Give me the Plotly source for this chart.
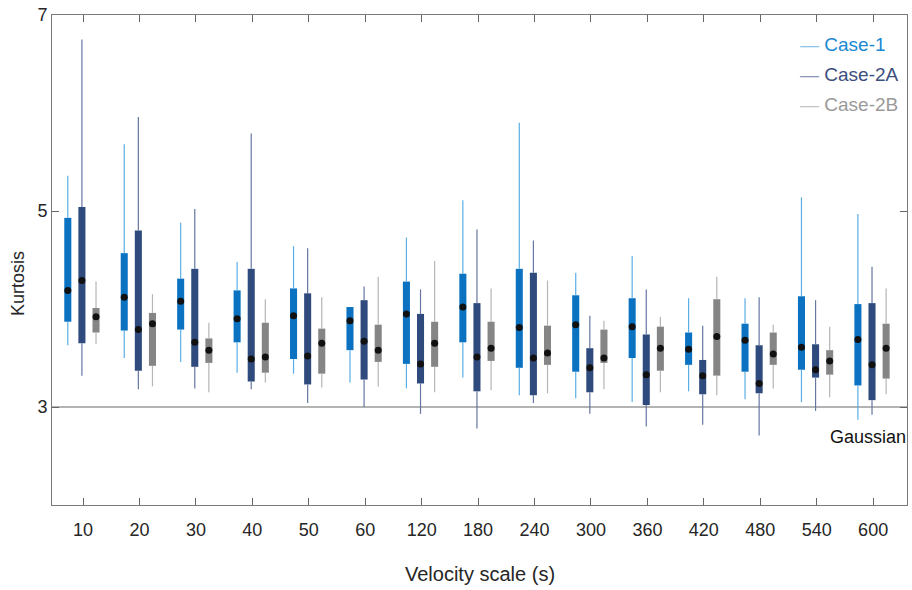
import plotly.graph_objects as go

categories = ["10", "20", "30", "40", "50", "60", "120", "180", "240", "300", "360", "420", "480", "540", "600"]

# Case-1
c1_hi  = [5.36, 5.68, 4.88, 4.48, 4.64, 4.02, 4.73, 5.11, 5.90, 4.37, 4.54, 4.11, 4.11, 5.14, 4.97]
c1_q3  = [4.93, 4.57, 4.31, 4.19, 4.21, 4.02, 4.28, 4.36, 4.41, 4.14, 4.11, 3.76, 3.85, 4.13, 4.05]
c1_med = [4.19, 4.12, 4.08, 3.90, 3.93, 3.88, 3.95, 4.02, 3.81, 3.84, 3.82, 3.59, 3.68, 3.61, 3.69]
c1_q1  = [3.87, 3.78, 3.79, 3.66, 3.49, 3.58, 3.44, 3.66, 3.40, 3.36, 3.50, 3.43, 3.36, 3.38, 3.22]
c1_lo  = [3.63, 3.50, 3.46, 3.35, 3.34, 3.25, 3.19, 3.30, 3.12, 3.09, 3.05, 3.16, 3.08, 3.05, 2.87]

# Case-2A
c2a_hi  = [6.75, 5.96, 5.02, 5.79, 4.62, 4.23, 4.20, 4.81, 4.70, 3.93, 4.20, 3.83, 4.12, 4.09, 4.43]
c2a_q3  = [5.04, 4.80, 4.41, 4.41, 4.16, 4.09, 3.95, 4.06, 4.37, 3.60, 3.74, 3.48, 3.63, 3.64, 4.06]
c2a_med = [4.29, 3.79, 3.66, 3.49, 3.52, 3.67, 3.44, 3.51, 3.50, 3.40, 3.33, 3.32, 3.24, 3.38, 3.43]
c2a_q1  = [3.65, 3.37, 3.41, 3.26, 3.23, 3.28, 3.24, 3.16, 3.12, 3.15, 3.02, 3.13, 3.14, 3.30, 3.07]
c2a_lo  = [3.32, 3.18, 3.19, 3.18, 3.04, 3.00, 2.93, 2.78, 3.04, 2.93, 2.80, 2.82, 2.71, 2.96, 2.92]

# Case-2B
c2b_hi  = [4.28, 4.15, 3.86, 4.10, 4.12, 4.33, 4.49, 4.21, 4.29, 3.88, 3.92, 4.33, 3.84, 3.82, 4.21]
c2b_q3  = [4.01, 3.96, 3.70, 3.86, 3.80, 3.84, 3.87, 3.87, 3.83, 3.79, 3.82, 4.10, 3.76, 3.58, 3.85]
c2b_med = [3.92, 3.85, 3.58, 3.51, 3.65, 3.58, 3.65, 3.60, 3.55, 3.50, 3.60, 3.72, 3.54, 3.47, 3.60]
c2b_q1  = [3.76, 3.42, 3.45, 3.35, 3.34, 3.46, 3.41, 3.47, 3.43, 3.45, 3.37, 3.32, 3.43, 3.33, 3.29]
c2b_lo  = [3.64, 3.21, 3.15, 3.25, 3.20, 3.21, 3.15, 3.17, 3.14, 3.18, 3.15, 3.12, 3.19, 3.10, 3.13]

series = [
    dict(name="Case-1", hi=c1_hi, q3=c1_q3, med=c1_med, q1=c1_q1, lo=c1_lo,
         box="#0a72c0", whisk="#5aaee6", leg="#8cc4ea", txt="#1a88d2", off=-0.27),
    dict(name="Case-2A", hi=c2a_hi, q3=c2a_q3, med=c2a_med, q1=c2a_q1, lo=c2a_lo,
         box="#2f4a7d", whisk="#6576a0", leg="#8a96b8", txt="#3b4e7e", off=-0.02),
    dict(name="Case-2B", hi=c2b_hi, q3=c2b_q3, med=c2b_med, q1=c2b_q1, lo=c2b_lo,
         box="#858585", whisk="#b5b5b5", leg="#c4c4c4", txt="#9a9a9a", off=0.23),
]

GAUSSIAN_LEVEL = 3

fig = go.Figure()
idx = list(range(1, len(categories) + 1))

# boxes
for s in series:
    xs = [i + s["off"] for i in idx]
    fig.add_trace(go.Bar(
        x=xs, y=[a - b for a, b in zip(s["q3"], s["q1"])], base=s["q1"],
        width=0.125, marker=dict(color=s["box"], line=dict(width=0)),
        showlegend=False, hoverinfo="skip"))

# whiskers
for s in series:
    wx, wy = [], []
    for i, hi, q3, q1, lo in zip(idx, s["hi"], s["q3"], s["q1"], s["lo"]):
        x = i + s["off"]
        wx += [x, x, None, x, x, None]
        wy += [q3, hi, None, lo, q1, None]
    fig.add_trace(go.Scatter(x=wx, y=wy, mode="lines",
                             line=dict(color=s["whisk"], width=1.2),
                             showlegend=False, hoverinfo="skip"))

# medians
for s in series:
    fig.add_trace(go.Scatter(
        x=[i + s["off"] for i in idx], y=s["med"], mode="markers",
        marker=dict(color="#111111", size=7), showlegend=False))

fig.add_shape(type="line", xref="paper", x0=0, x1=1, yref="y",
              y0=GAUSSIAN_LEVEL, y1=GAUSSIAN_LEVEL,
              line=dict(color="#b3b3b3", width=2), layer="below")

font = "Liberation Sans, Arial, sans-serif"
ann = [
    dict(text="Gaussian", x=0.954, y=0.139, xref="paper", yref="paper",
         xanchor="center", yanchor="middle",
         showarrow=False, font=dict(size=18, color="#111111", family=font)),
    dict(text="Kurtosis", x=-0.0398, y=0.453, xref="paper", yref="paper",
         xanchor="center", yanchor="middle",
         textangle=-90, showarrow=False, font=dict(size=18, color="#262626", family=font)),
    dict(text="Velocity scale (s)", x=0.5, y=-0.14, xref="paper", yref="paper",
         xanchor="center", yanchor="middle",
         showarrow=False, font=dict(size=20, color="#262626", family=font)),
]
for k, s in enumerate(series):
    ann.append(dict(
        text=f"<span style='color:{s['leg']}'>—</span> {s['name']}",
        x=0.873, y=0.939 - 0.0612 * k, xref="paper", yref="paper",
        xanchor="left", yanchor="middle", showarrow=False,
        font=dict(size=19, color=s["txt"], family=font)))

fig.update_layout(
    width=912, height=590,
    margin=dict(l=52, r=5, t=15, b=85),
    paper_bgcolor="white", plot_bgcolor="white",
    barmode="overlay", showlegend=False,
    annotations=ann,
    font=dict(family=font, color="#262626"),
)
fig.update_xaxes(range=[0.45, 15.6], tickvals=idx, ticktext=categories,
                 ticks="inside", ticklen=7, tickcolor="#666666",
                 showline=True, linecolor="#7a7a7a", linewidth=1, mirror="ticks",
                 showgrid=False, zeroline=False, ticklabelstandoff=8,
                 tickfont=dict(size=18, color="#262626", family=font))
fig.update_yaxes(range=[2, 7], tickvals=[3, 5, 7], ticks="inside", ticklen=7,
                 tickcolor="#666666", showline=True, linecolor="#7a7a7a", linewidth=1,
                 mirror="ticks", showgrid=False, zeroline=False,
                 tickfont=dict(size=18, color="#262626", family=font))

fig.write_html("out.html")
